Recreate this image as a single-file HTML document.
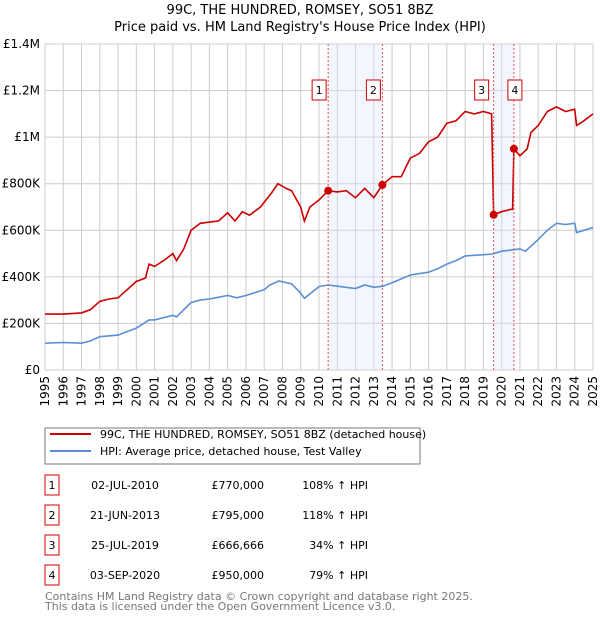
<!DOCTYPE html>
<html><head><meta charset="utf-8"><style>
body{margin:0;background:#fff;font-family:"DejaVu Sans","Liberation Sans",sans-serif;}
svg text{font-family:"DejaVu Sans","Liberation Sans",sans-serif;}
</style></head><body>
<svg id="c" width="600" height="620" xmlns="http://www.w3.org/2000/svg">
<text x="300" y="14" text-anchor="middle" font-size="13">99C, THE HUNDRED, ROMSEY, SO51 8BZ</text>
<text x="300" y="31" text-anchor="middle" font-size="13">Price paid vs. HM Land Registry's House Price Index (HPI)</text>
<g id="grid"></g><g id="shade"></g><g id="lines"></g><g id="marks"></g><g id="axes"></g>
<rect x="45" y="428" width="375" height="36" fill="#fff" stroke="#777"/>
<line x1="50" y1="434" x2="91" y2="434" stroke="#cc0000" stroke-width="2"/>
<text x="100" y="438" font-size="11">99C, THE HUNDRED, ROMSEY, SO51 8BZ (detached house)</text>
<line x1="50" y1="451" x2="91" y2="451" stroke="#5b8ed6" stroke-width="2"/>
<text x="100" y="455" font-size="11">HPI: Average price, detached house, Test Valley</text>
<g id="table" font-size="11"></g>
<text x="45" y="600" font-size="11" fill="#777">Contains HM Land Registry data © Crown copyright and database right 2025.</text>
<text x="45" y="610" font-size="11" fill="#777">This data is licensed under the Open Government Licence v3.0.</text>
</svg>
<script>
const hpiYears=[1995,1996,1997,1997.5,1998,1999,2000,2000.7,2001,2002,2002.2,2003,2003.5,2004,2005,2005.5,2006,2007,2007.3,2007.8,2008.5,2009,2009.2,2010,2010.5,2011,2012,2012.5,2013,2013.5,2014,2015,2016,2016.5,2017,2017.5,2018,2019,2019.5,2020,2020.5,2021,2021.3,2022,2022.5,2023,2023.5,2024,2024.1,2024.5,2025];
const hpiVals=[115,118,115,125,143,150,180,215,215,235,228,290,300,305,320,310,320,345,365,382,370,330,308,358,365,360,350,365,355,360,375,408,420,435,455,470,490,495,498,510,515,520,510,560,600,630,625,630,590,600,612];
const priceYears=[1995,1996,1997,1997.5,1998,1998.5,1999,2000,2000.5,2000.7,2001,2001.5,2002,2002.2,2002.6,2003,2003.5,2004,2004.5,2005,2005.4,2005.8,2006.2,2006.8,2007,2007.4,2007.75,2008.2,2008.5,2009,2009.2,2009.5,2010,2010.5,2011,2011.5,2012,2012.5,2013,2013.47,2014,2014.5,2015,2015.5,2016,2016.5,2017,2017.5,2018,2018.5,2019,2019.45,2019.56,2020,2020.5,2020.6,2020.67,2021,2021.4,2021.6,2022,2022.5,2023,2023.5,2024,2024.1,2024.5,2025];
const priceVals=[240,240,245,260,295,305,310,380,395,455,445,470,500,470,520,600,630,635,640,675,640,680,665,700,720,760,800,780,770,700,640,700,730,770,765,770,740,780,740,795,830,830,910,930,980,1000,1060,1070,1110,1100,1110,1100,666.666,680,690,690,950,920,950,1020,1050,1110,1130,1110,1120,1050,1070,1100];
const saleLabels=["1","2","3","4"];
const saleYears=[2010.50,2013.47,2019.56,2020.67];
const saleVals=[770,795,666.666,950];
const saleDates=["02-JUL-2010","21-JUN-2013","25-JUL-2019","03-SEP-2020"];
const salePrices=["£770,000","£795,000","£666,666","£950,000"];
const saleHpi=["108% ↑ HPI","118% ↑ HPI","34% ↑ HPI","79% ↑ HPI"];
const yTicks=[0,200,400,600,800,1000,1200,1400];
const yTickLabels=["£0","£200K","£400K","£600K","£800K","£1M","£1.2M","£1.4M"];
const xTicks=[1995,1996,1997,1998,1999,2000,2001,2002,2003,2004,2005,2006,2007,2008,2009,2010,2011,2012,2013,2014,2015,2016,2017,2018,2019,2020,2021,2022,2023,2024,2025];

const X0=45,X1=593,Y0=370,Y1=44;
const xs=y=>X0+(y-1995)/30*(X1-X0);
const ys=v=>Y0-v/1400*(Y0-Y1);
const NS="http://www.w3.org/2000/svg";
function mk(p,t,a){const e=document.createElementNS(NS,t);for(const k in a)e.setAttribute(k,a[k]);document.getElementById(p).appendChild(e);return e;}
xTicks.forEach(t=>{
 const l=mk('grid','line',{x1:xs(t),x2:xs(t),y1:Y1,y2:Y0,stroke:'#cccccc'});
 
 
 const tx=mk('axes','text',{transform:`translate(${xs(t)+4},${Y0+6}) rotate(-90)`,'text-anchor':'end','font-size':'12'});
 tx.textContent=t;
 
 
});
yTicks.forEach((t,i)=>{
 const l=mk('grid','line',{x1:X0,x2:X1,y1:ys(t),y2:ys(t),stroke:'#cccccc'});
 
 
 const tx=mk('axes','text',{x:40,y:ys(t)+4,'text-anchor':'end','font-size':'12'});
 tx.textContent=yTickLabels[i];
 
 
});
[[0,1],[2,3]].forEach(([a,b])=>{
 const r=mk('shade','rect',{x:xs(saleYears[a]),y:Y1,width:xs(saleYears[b])-xs(saleYears[a]),height:Y0-Y1,fill:'#dde6fa',opacity:'0.35'});
 
 
});
function path(xsA,vA,col,name){
 const d=xsA.map((y,i)=>(i?'L':'M')+xs(y).toFixed(1)+','+ys(vA[i]).toFixed(1)).join('');
 const p=mk('lines','path',{d,fill:'none',stroke:col,'stroke-width':'1.6'});
 
 
}
path(hpiYears,hpiVals,'#5b8ed6','hpi-line');
path(priceYears,priceVals,'#cc0000','price-line');
saleYears.forEach((y,i)=>{
 const l=mk('marks','line',{x1:xs(y),x2:xs(y),y1:Y1,y2:Y0,stroke:'#e05050','stroke-dasharray':'2,2','stroke-width':'1'});
 
 
 const c=mk('marks','circle',{cx:xs(y),cy:ys(saleVals[i]),r:4,fill:'#cc0000'});
 
 
 const bx=xs(y)-(i==2?12:i==3?-1:9)-7;
 const b=mk('marks','rect',{x:bx,y:80,width:14,height:20,fill:'#fff',stroke:'#cc0000'});
 
 
 const t=mk('marks','text',{x:bx+7,y:94,'text-anchor':'middle','font-size':'11'});
 t.textContent=saleLabels[i];
 
 
 const ry=475+i*30;
 const tb=mk('table','rect',{x:45,y:ry,width:14,height:20,fill:'#fff',stroke:'#cc0000'});
 
 
 const cells=[[52,saleLabels[i],'middle'],[125,saleDates[i],'middle'],[264,salePrices[i],'end'],[368,saleHpi[i],'end']];
 cells.forEach(([x,s,a])=>{
  const tt=mk('table','text',{x,y:ry+14,'text-anchor':a});
  tt.textContent=s;
  
  
 });
});
</script>
</body></html>
